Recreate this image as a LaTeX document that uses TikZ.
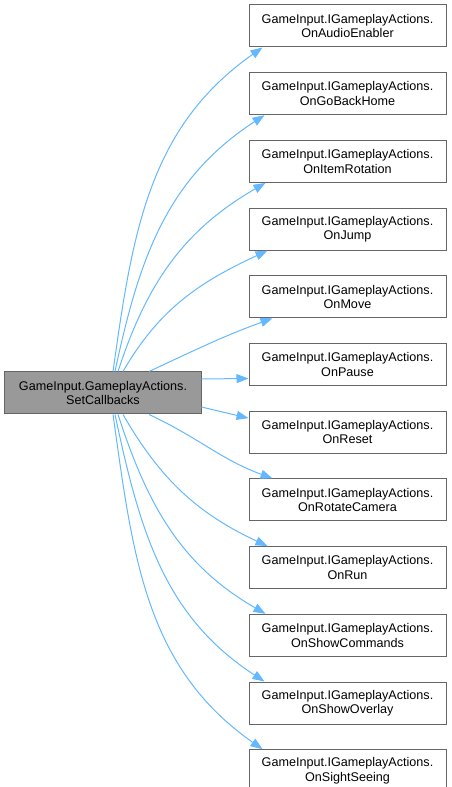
\documentclass[tikz,border=0pt]{standalone}
\usepackage{fontspec}
\setmainfont{Liberation Sans}
\usetikzlibrary{arrows.meta,positioning}
\usepackage{xcolor}
\definecolor{callblue}{HTML}{63B8FF}
\definecolor{boxgray}{HTML}{999999}
\definecolor{edgegray}{HTML}{666666}

\begin{document}
\begin{tikzpicture}[x=1bp, y=1bp, node distance=24.7bp,
  callee/.style={draw=edgegray, line width=1bp, fill=white, rectangle, align=center,
    minimum width=197bp, minimum height=42bp, inner sep=2bp,
    font=\fontsize{12.6bp}{14.5bp}\selectfont},
  caller/.style={callee, fill=boxgray, minimum width=196bp},
  call/.style={draw=callblue, line width=1bp, -{Triangle[length=12bp,width=9bp]}}]
  \useasboundingbox (0,0) rectangle (452,787);

  \node[caller] (set) at (103,394) {GameInput.GameplayActions.\\SetCallbacks};

  \node[callee] (audio) at (347.5,761) {GameInput.IGameplayActions.\\OnAudioEnabler};
  \node[callee, below=of audio] (home) {GameInput.IGameplayActions.\\OnGoBackHome};
  \node[callee, below=of home] (rotation) {GameInput.IGameplayActions.\\OnItemRotation};
  \node[callee, below=of rotation] (jump) {GameInput.IGameplayActions.\\OnJump};
  \node[callee, below=of jump] (move) {GameInput.IGameplayActions.\\OnMove};
  \node[callee, below=of move] (pause) {GameInput.IGameplayActions.\\OnPause};
  \node[callee, below=of pause] (reset) {GameInput.IGameplayActions.\\OnReset};
  \node[callee, below=of reset] (camera) {GameInput.IGameplayActions.\\OnRotateCamera};
  \node[callee, below=of camera] (run) {GameInput.IGameplayActions.\\OnRun};
  \node[callee, below=of run] (commands) {GameInput.IGameplayActions.\\OnShowCommands};
  \node[callee, below=of commands] (overlay) {GameInput.IGameplayActions.\\OnShowOverlay};
  \node[callee, below=of overlay] (seeing) {GameInput.IGameplayActions.\\OnSightSeeing};

  % calls going up
  \draw[call] ([xshift=10bp]set.north) to[out=82, in=215] ([xshift=14bp]audio.south west);
  \draw[call] ([xshift=12bp]set.north) to[out=78, in=213] ([xshift=16bp]home.south west);
  \draw[call] ([xshift=15bp]set.north) to[out=72, in=210] ([xshift=17bp]rotation.south west);
  \draw[call] ([xshift=20bp]set.north) to[out=60, in=205] ([xshift=19bp]jump.south west);
  \draw[call] ([xshift=46bp]set.north) to[out=25, in=200] ([xshift=24bp]move.south west);
  % straight calls
  \draw[call] ([yshift=14bp]set.east) -- ([yshift=-14bp]pause.west);
  \draw[call] ([yshift=-14bp]set.east) -- ([yshift=14bp]reset.west);
  % calls going down
  \draw[call] ([xshift=46bp]set.south) to[out=-25, in=160] ([xshift=24bp]camera.north west);
  \draw[call] ([xshift=20bp]set.south) to[out=-60, in=155] ([xshift=19bp]run.north west);
  \draw[call] ([xshift=15bp]set.south) to[out=-72, in=150] ([xshift=17bp]commands.north west);
  \draw[call] ([xshift=12bp]set.south) to[out=-78, in=147] ([xshift=16bp]overlay.north west);
  \draw[call] ([xshift=10bp]set.south) to[out=-82, in=145] ([xshift=14bp]seeing.north west);
\end{tikzpicture}
\end{document}
